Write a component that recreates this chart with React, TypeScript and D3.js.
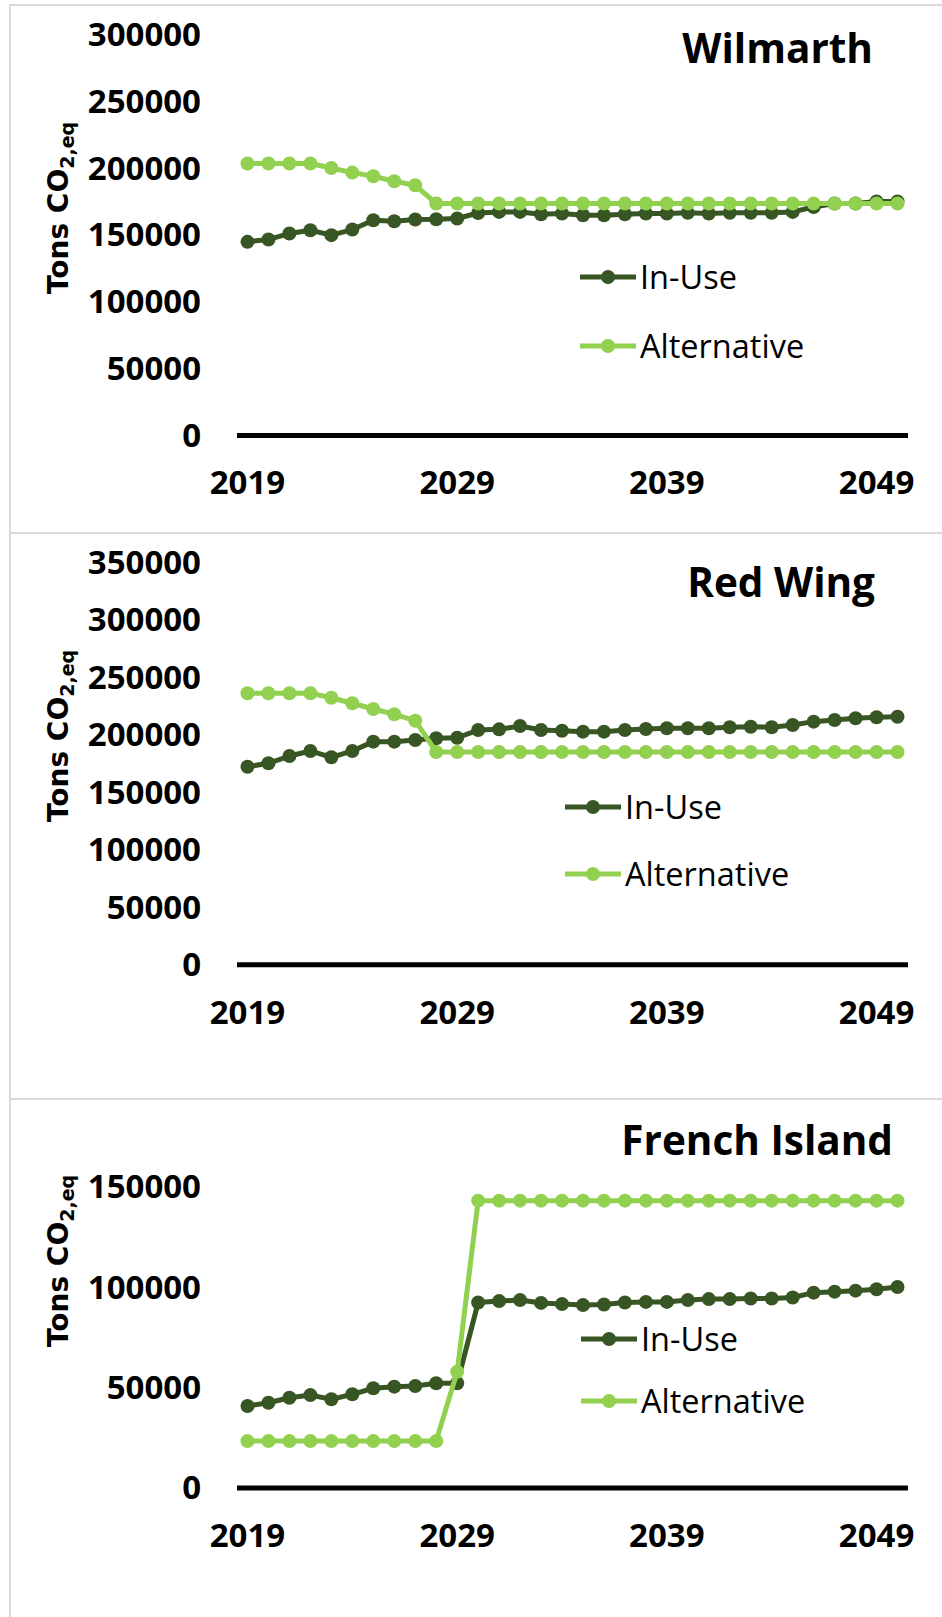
import React from "react";
import * as d3 from "d3";

const years: number[] = d3.range(2019, 2051);
const xTickLabels: number[] = [2019, 2029, 2039, 2049];
const seriesNames: string[] = ["In-Use", "Alternative"];
const seriesColors: string[] = ["#375623", "#92D050"];

const wilmarthInUse: number[] = [
  144800, 146600, 151000, 153500, 149800, 154000, 161000, 160200, 161500, 161700,
  162300, 166400, 167200, 167200, 165500, 166000, 164700, 164700, 165500, 166000,
  166000, 166500, 166000, 166500, 166500, 166500, 167200, 170900, 173500, 173500,
  175000, 175000,
];
const wilmarthAlt: number[] = [
  203400, 203400, 203400, 203400, 200100, 196600, 193900, 190100, 187100, 173500,
  173500, 173500, 173500, 173500, 173500, 173500, 173500, 173500, 173500, 173500,
  173500, 173500, 173500, 173500, 173500, 173500, 173500, 173500, 173500, 173500,
  173500, 173500,
];
const redWingInUse: number[] = [
  172200, 175200, 181500, 185900, 180400, 185900, 194000, 194000, 195400, 196900,
  197400, 204100, 204700, 207600, 204100, 203500, 202700, 202700, 204100, 205000,
  205600, 205600, 205600, 206500, 207000, 206500, 208500, 211400, 212800, 214300,
  215200, 215700,
];
const redWingAlt: number[] = [
  236100, 236100, 236100, 236100, 232200, 227400, 222400, 217800, 212200, 185000,
  185000, 185000, 185000, 185000, 185000, 185000, 185000, 185000, 185000, 185000,
  185000, 185000, 185000, 185000, 185000, 185000, 185000, 185000, 185000, 185000,
  185000, 185000,
];
const frenchInUse: number[] = [
  40800, 42400, 44900, 46200, 44100, 46600, 49600, 50400, 50700, 52100,
  52100, 92300, 93000, 93500, 92100, 91500, 91000, 91300, 92300, 92600,
  92600, 93500, 94000, 94000, 94300, 94300, 94800, 97200, 97700, 98200,
  98900, 100000,
];
const frenchAlt: number[] = [
  23300, 23300, 23300, 23300, 23300, 23300, 23300, 23300, 23300, 23300,
  57800, 143000, 143000, 143000, 143000, 143000, 143000, 143000, 143000, 143000,
  143000, 143000, 143000, 143000, 143000, 143000, 143000, 143000, 143000, 143000,
  143000, 143000,
];

const wilmarthTicks: number[] = [0, 50000, 100000, 150000, 200000, 250000, 300000];
const redWingTicks: number[] = [0, 50000, 100000, 150000, 200000, 250000, 300000, 350000];
const frenchTicks: number[] = [0, 50000, 100000, 150000];

type PanelCfg = {
  title: string;
  titleX: number;
  titleY: number;
  inUse: number[];
  alt: number[];
  ticks: number[];
  yDomainMax: number;
  yZero: number;
  yTop: number;
  axisTitleY: number;
  legendX: number;
  legendY1: number;
  legendY2: number;
  frameY: number;
  frameH: number;
};

const panels: PanelCfg[] = [
  {
    title: "Wilmarth", titleX: 873, titleY: 63,
    inUse: wilmarthInUse, alt: wilmarthAlt, ticks: wilmarthTicks,
    yDomainMax: 300000, yZero: 435.4, yTop: 34.4, axisTitleY: 208,
    legendX: 580, legendY1: 277, legendY2: 346, frameY: 5, frameH: 528,
  },
  {
    title: "Red Wing", titleX: 875, titleY: 597,
    inUse: redWingInUse, alt: redWingAlt, ticks: redWingTicks,
    yDomainMax: 350000, yZero: 964.7, yTop: 562.3, axisTitleY: 736,
    legendX: 565, legendY1: 807, legendY2: 874, frameY: 533, frameH: 566,
  },
  {
    title: "French Island", titleX: 893, titleY: 1155,
    inUse: frenchInUse, alt: frenchAlt, ticks: frenchTicks,
    yDomainMax: 150000, yZero: 1487.9, yTop: 1186.6, axisTitleY: 1261,
    legendX: 581, legendY1: 1339, legendY2: 1401, frameY: 1099, frameH: 540,
  },
];

const FONT = "'Open Sans', sans-serif";

function Panel({ cfg }: { cfg: PanelCfg }) {
  const x = d3.scalePoint<number>().domain(years).range([237, 908]).padding(0.5);
  const y = d3.scaleLinear().domain([0, cfg.yDomainMax]).range([cfg.yZero, cfg.yTop]);
  const line = d3
    .line<number>()
    .x((_, i) => x(years[i]) as number)
    .y((d) => y(d));
  const series = [cfg.inUse, cfg.alt];
  return (
    <g>
      <rect x={10} y={cfg.frameY} width={940} height={cfg.frameH} fill="white" stroke="#d9d9d9" strokeWidth={2} />
      {cfg.ticks.map((t) => (
        <text key={t} x={201} y={y(t) + 11.5} textAnchor="end" fontFamily={FONT} fontWeight={700} fontSize={33} fill="#000">
          {t}
        </text>
      ))}
      <line x1={237} x2={908} y1={y(0)} y2={y(0)} stroke="#000" strokeWidth={5} />
      {xTickLabels.map((yr) => (
        <text key={yr} x={x(yr) as number} y={y(0) + 59} textAnchor="middle" fontFamily={FONT} fontWeight={700} fontSize={33} fill="#000">
          {yr}
        </text>
      ))}
      <text
        transform={`translate(68, ${cfg.axisTitleY}) rotate(-90)`}
        textAnchor="middle"
        fontFamily="'DejaVu Sans', sans-serif"
        fontWeight={700}
        fontSize={28}
        fill="#000"
      >
        Tons CO<tspan fontSize={19} dy={6}>2,eq</tspan>
      </text>
      <text x={cfg.titleX} y={cfg.titleY} textAnchor="end" fontFamily={FONT} fontWeight={700} fontSize={40.5} fill="#000">
        {cfg.title}
      </text>
      {series.map((s, si) => (
        <g key={si}>
          <path d={line(s) || ""} fill="none" stroke={seriesColors[si]} strokeWidth={5} strokeLinejoin="round" />
          {s.map((v, i) => (
            <circle key={i} cx={x(years[i]) as number} cy={y(v)} r={7} fill={seriesColors[si]} />
          ))}
        </g>
      ))}
      {seriesNames.map((name, si) => {
        const ly = si === 0 ? cfg.legendY1 : cfg.legendY2;
        return (
          <g key={name}>
            <line x1={cfg.legendX} x2={cfg.legendX + 56} y1={ly} y2={ly} stroke={seriesColors[si]} strokeWidth={5} />
            <circle cx={cfg.legendX + 28} cy={ly} r={7} fill={seriesColors[si]} />
            <text x={cfg.legendX + 60} y={ly + 11.5} fontFamily={FONT} fontSize={32.5} fill="#000">
              {name}
            </text>
          </g>
        );
      })}
    </g>
  );
}

export default function App() {
  return (
    <svg
      width={942}
      height={1617}
      style={{ position: "absolute", left: 0, top: 0, background: "white" }}
    >
      <rect x={0} y={0} width={942} height={1617} fill="white" />
      {panels.map((p) => (
        <Panel key={p.title} cfg={p} />
      ))}
    </svg>
  );
}
